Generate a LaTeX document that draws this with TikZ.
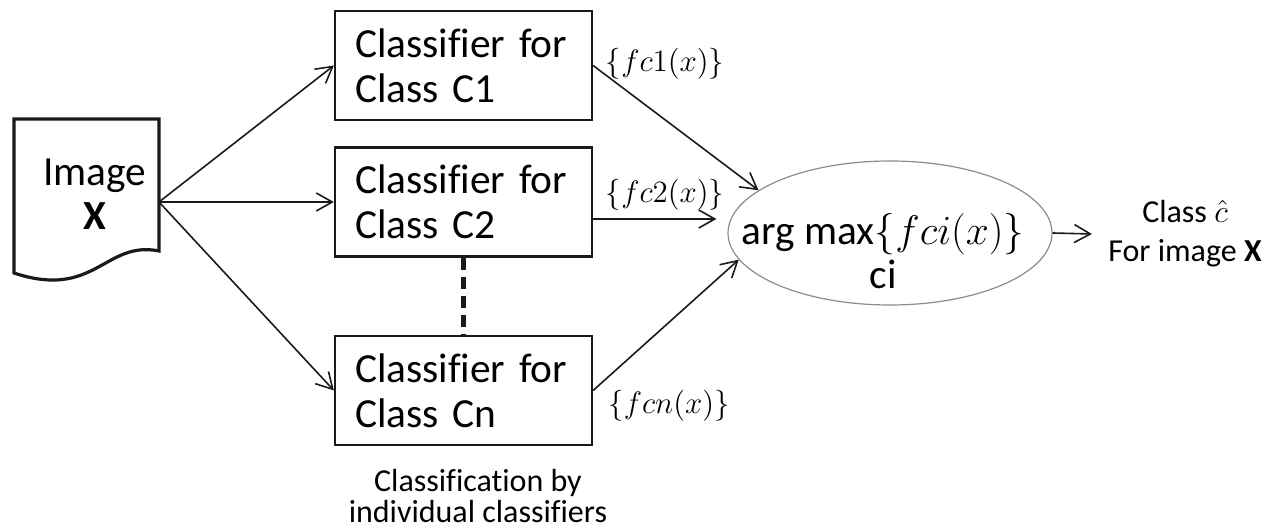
\documentclass[tikz,border=0pt]{standalone}
\usepackage{fix-cm}
\usepackage{amsmath}
\usepackage{fontspec}
\setmainfont{Carlito}[Ligatures=NoCommon]
\usetikzlibrary{arrows.meta,shapes.geometric}
\definecolor{ink}{HTML}{1A1A1A}
\definecolor{rim}{HTML}{8C8C8C}

\begin{document}
\begin{tikzpicture}[x=0.5pt,y=-0.5pt,
    arr/.style={-{Straight Barb[length=8pt,width=9pt]},line width=0.8pt,draw=ink},
    clsbox/.style={draw=ink,line width=1.1pt,minimum width=128.5pt,minimum height=54.5pt,
      text width=108.5pt,inner xsep=10pt,inner ysep=2pt,align=left,
      font=\fontsize{20.7}{22.5}\selectfont},
    flab/.style={font=\fontsize{15.5}{18}\selectfont}]
  \useasboundingbox (0,0) rectangle (1264,528);
  % input image
  \draw[ink,line width=1.6pt] (14,119) -- (159,119) -- (159,251)
    .. controls (105,240) and (95,300) .. (14,273) -- cycle;
  \node[align=center,font=\fontsize{20.7}{22}\selectfont] (img) at (95,194) {Image\\\textbf{X}};
  \coordinate (imgout) at (159,202);
  % one classifier per class
  \node[clsbox] (c1) at (463.5,65.5) {Classifier for\\Class C1};
  \node[clsbox] (c2) at (463.5,202) {Classifier for\\Class C2};
  \node[clsbox] (cn) at (463.5,390.5) {Classifier for\\Class Cn};
  \draw[ink,line width=2.2pt,dash pattern=on 6pt off 3.5pt] (c2.south) -- (cn.north);
  \node[font=\fontsize{16}{15.5}\selectfont,align=center,inner sep=1pt] (capt) at (478,496)
    {Classification by\\individual classifiers};
  \draw[arr] (imgout) -- (c1.west);
  \draw[arr] (imgout) -- (c2.west);
  \draw[arr] (imgout) -- (cn.west);
  % arg max
  \node[ellipse,draw=rim,line width=0.6pt,minimum width=162pt,minimum height=72pt,
    inner sep=0pt] (amax) at (890,233) {};
  \node[align=center,font=\fontsize{20.7}{22}\selectfont] (amaxtxt) at (883,251)
    {arg max$\{fci(x)\}$\\ci};
  \coordinate (c2out) at ([yshift=-8.5pt]c2.east);
  \draw[arr] (c1.east) -- (amax.162);
  \draw[arr,shorten >=5.5pt] (c2out) -- (c2out -| amax.west);
  \draw[arr] (cn.east) -- (amax.190);
  \node[flab] (f1) at (665,64) {$\{fc1(x)\}$};
  \node[flab] (f2) at (665,195) {$\{fc2(x)\}$};
  \node[flab] (fn) at (669,406) {$\{fcn(x)\}$};
  % result
  \node[align=center,inner xsep=8pt,font=\fontsize{16}{19.5}\selectfont] (res) at (1185,234)
    {Class $\hat{c}$\\For image \textbf{X}};
  \draw[arr] (amax.east) -- (res.west);
\end{tikzpicture}
\end{document}
